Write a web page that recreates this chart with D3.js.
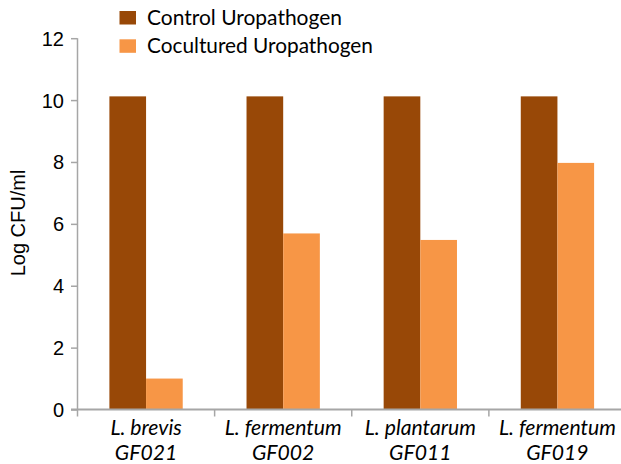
<!DOCTYPE html>
<html><head><meta charset="utf-8">
<script src="https://cdn.jsdelivr.net/npm/d3@7"></script>
<style>body{margin:0;background:#fff}svg{display:block}</style>
</head><body>
<svg id="c" width="621" height="464"></svg>
<script>
const categories = [["L. brevis","GF021"],["L. fermentum","GF002"],["L. plantarum","GF011"],["L. fermentum","GF019"]];
const seriesNames = ["Control Uropathogen","Cocultured Uropathogen"];
const controlValues = [10.12, 10.12, 10.12, 10.12];
const coculturedValues = [1.0, 5.69, 5.48, 7.97];
const yTicks = [0,2,4,6,8,10,12];
const colors = ["#984807","#F79646"];

const svg = d3.select("#c");
const axisColor = "#A6A6A6";
const x0 = d3.scaleBand().domain(d3.range(categories.length)).range([77.5, 626]).padding(0);
const x1 = d3.scaleBand().domain([0,1]).range([0, x0.bandwidth()]).paddingInner(0).paddingOuter(0.87);
const y = d3.scaleLinear().domain([0,12]).range([409.5, 38.2]);

// bars
const groups = svg.append("g").selectAll("g").data(categories).join("g")
  .attr("transform",(d,i)=>`translate(${x0(i)},0)`);
groups.selectAll("rect").data((d,i)=>[controlValues[i], coculturedValues[i]]).join("rect")
  .attr("x",(d,j)=>x1(j)).attr("width",x1.bandwidth())
  .attr("y",d=>y(d)).attr("height",d=>y(0)-y(d))
  .attr("fill",(d,j)=>colors[j]);

// y axis
const ya = svg.append("g").attr("transform","translate(77.5,0)")
  .call(d3.axisLeft(y).tickValues(yTicks).tickSize(6.5).tickPadding(7).tickFormat(d3.format("d")));
ya.select(".domain").attr("stroke",axisColor).attr("stroke-width",1.5).attr("d",`M0,${y(12)}V${y(0)}`);
ya.selectAll(".tick line").attr("stroke",axisColor).attr("stroke-width",1.5);
ya.selectAll(".tick text").attr("font-family","'Liberation Sans', Arial, sans-serif").attr("font-size",20).attr("fill","#000").attr("dy","0.35em");

// x axis
const bounds = d3.range(categories.length+1).map(i=> i<categories.length ? x0(i) : x0.range()[1]);
svg.append("line").attr("x1",71).attr("x2",626).attr("y1",y(0)).attr("y2",y(0)).attr("stroke",axisColor).attr("stroke-width",1.8);
svg.append("g").selectAll("line").data(bounds).join("line")
  .attr("x1",d=>d).attr("x2",d=>d).attr("y1",y(0)).attr("y2",y(0)+7)
  .attr("stroke",axisColor).attr("stroke-width",1.5);

const catFont = "Lato, 'Open Sans', sans-serif";
// determine one font size from the "L. fermentum" label width
const probe = svg.append("text").attr("font-family",catFont).attr("font-style","italic").attr("font-size",20).text(categories[1][0]);
const catSize = 20*117/probe.node().getComputedTextLength();
probe.remove();
categories.forEach((c,i)=>{
  const cx = x0(i)+x0.bandwidth()/2;
  svg.append("text").attr("x",cx).attr("y",435).attr("text-anchor","middle")
    .attr("font-family",catFont).attr("font-style","italic").attr("font-size",catSize.toFixed(2)).text(c[0]);
  svg.append("text").attr("x",cx).attr("y",460).attr("text-anchor","middle")
    .attr("font-family",catFont).attr("font-style","italic").attr("font-size",catSize.toFixed(2)).text(c[1]);
});

// y title
svg.append("text").attr("transform","translate(25,223) rotate(-90)").attr("text-anchor","middle")
  .attr("font-family","'Liberation Sans', Arial, sans-serif").attr("font-size",20).text("Log CFU/ml");

// legend
const legW = [195, 226];
seriesNames.forEach((s,i)=>{
  const yy = 11 + i*28.3;
  svg.append("rect").attr("x",119.5).attr("y",yy).attr("width",16.5).attr("height",13.5).attr("fill",colors[i]);
  const t = svg.append("text").attr("x",147).attr("y",yy+13.8).attr("font-family",catFont).attr("font-size",20).text(s);
  const w = t.node().getComputedTextLength();
  t.attr("font-size",(20*legW[i]/w).toFixed(2));
});
</script>
</body></html>
